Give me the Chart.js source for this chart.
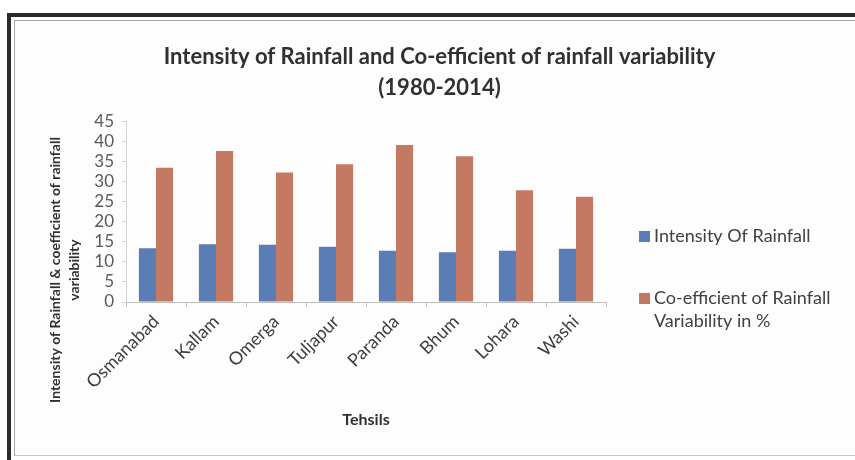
<!DOCTYPE html>
<html>
<head>
<meta charset="utf-8">
<script src="https://cdn.jsdelivr.net/npm/chart.js@4.4.1/dist/chart.umd.min.js"></script>
<style>
  html, body { margin: 0; padding: 0; background: #ffffff; }
  body { width: 855px; height: 460px; position: relative; overflow: hidden; }
  .frame-outer {
    position: absolute; left: 7px; top: 13px; width: 860px; height: 444px;
    border-top: 4px solid #2b2b2b; border-left: 4px solid #2b2b2b;
    border-bottom: 2px solid #6a6a6a;
  }
  .frame-inner {
    position: absolute; left: 14px; top: 20px; width: 860px; height: 434px;
    border-top: 1px solid #a8a8a8; border-left: 1px solid #a8a8a8;
    border-bottom: 1px solid #c8c8c8; background: #fdfdfd;
  }
  #chartWrap { position: absolute; left: 0; top: 0; width: 855px; height: 460px; }
</style>
</head>
<body>
<div class="frame-outer"></div>
<div class="frame-inner"></div>
<div id="chartWrap"><canvas id="rainChart" width="855" height="460"></canvas></div>
<script>
// Tehsil-wise rainfall figures, 1980-2014
const tehsils = ['Osmanabad', 'Kallam', 'Omerga', 'Tuljapur', 'Paranda', 'Bhum', 'Lohara', 'Washi'];
const intensity = [13.4, 14.4, 14.3, 13.8, 12.8, 12.4, 12.8, 13.3];
const variability = [33.5, 37.7, 32.3, 34.4, 39.2, 36.4, 27.9, 26.3];
const seriesNames = ['Intensity Of Rainfall', 'Co-efficient of Rainfall\nVariability in %'];
const yTicks = [0, 5, 10, 15, 20, 25, 30, 35, 40, 45];

const titleLines = ['Intensity of Rainfall and Co-efficient of rainfall variability', '(1980-2014)'];
const yTitleLines = ['Intensity of Rainfall & coefficient of rainfall', 'variability'];
const xTitle = 'Tehsils';

const BLUE = '#5b7db5';
const ORANGE = '#c47a62';
const FONT = 'Lato, "Open Sans", sans-serif';

// right-hand box that holds the legend (two-line labels are allowed)
const sideLegend = {
    id: 'sideLegend',
    beforeInit(chart) {
        const box = {
            position: 'right',
            weight: 10,
            fullSize: false,
            options: {},
            top: 0, left: 0, right: 0, bottom: 0, width: 0, height: 0,
            isHorizontal() { return false; },
            update(maxWidth, maxHeight) {
                this.width = 249;
                this.height = maxHeight;
            },
            draw() {
                const ctx = chart.ctx;
                const colors = [BLUE, ORANGE];
                const rows = [236, 298];
                ctx.save();
                ctx.font = '18px ' + FONT;
                ctx.textBaseline = 'middle';
                ctx.textAlign = 'left';
                seriesNames.forEach((name, i) => {
                    const x = this.left + 33;
                    const y = rows[i];
                    ctx.fillStyle = colors[i];
                    ctx.fillRect(x, y - 5, 11, 11);
                    ctx.fillStyle = '#404040';
                    name.split('\n').forEach((line, j) => {
                        ctx.fillText(line, x + 15, y + j * 23);
                    });
                });
                ctx.restore();
            }
        };
        Chart.layouts.addBox(chart, box);
    }
};

// rotated two-line title for the value axis
const yAxisTitle = {
    id: 'yAxisTitle',
    afterDraw(chart) {
        const ctx = chart.ctx;
        ctx.save();
        ctx.translate(55, 270);
        ctx.rotate(-Math.PI / 2);
        ctx.font = 'bold 14px ' + FONT;
        ctx.fillStyle = '#303030';
        ctx.textAlign = 'center';
        ctx.textBaseline = 'middle';
        yTitleLines.forEach((line, i) => ctx.fillText(line, 0, i * 19));
        ctx.restore();
    }
};

new Chart(document.getElementById('rainChart'), {
    type: 'bar',
    data: {
        labels: tehsils,
        datasets: [{
            label: seriesNames[0],
            data: intensity,
            backgroundColor: BLUE,
            categoryPercentage: 0.57,
            barPercentage: 1.0
        }, {
            label: seriesNames[1],
            data: variability,
            backgroundColor: ORANGE,
            categoryPercentage: 0.57,
            barPercentage: 1.0
        }]
    },
    options: {
        responsive: false,
        animation: false,
        layout: { padding: { left: 24, right: 0, top: 0, bottom: 0 } },
        scales: {
            x: {
                afterFit(scale) { scale.height = 158; },
                grid: {
                    offset: true,
                    drawOnChartArea: false,
                    tickLength: 5,
                    color: '#bfbfbf'
                },
                border: { display: true, color: '#bfbfbf' },
                ticks: {
                    minRotation: 45,
                    maxRotation: 45,
                    autoSkip: false,
                    padding: 4,
                    color: '#404040',
                    font: { family: FONT, size: 18 }
                },
                title: {
                    display: true,
                    text: xTitle,
                    color: '#303030',
                    font: { family: FONT, size: 16, weight: 'bold', lineHeight: 1.2 },
                    padding: { top: 0, bottom: 31 }
                }
            },
            y: {
                min: 0,
                max: 45,
                afterFit(scale) { scale.width = 102; },
                afterBuildTicks(scale) {
                    scale.ticks = yTicks.map(v => ({ value: v }));
                },
                grid: {
                    drawOnChartArea: false,
                    tickLength: 4,
                    color: '#d4d4d4'
                },
                border: { display: true, color: '#d4d4d4' },
                ticks: {
                    autoSkip: false,
                    padding: 8,
                    color: '#595959',
                    font: { family: FONT, size: 17 }
                }
            }
        },
        plugins: {
            legend: { display: false },
            tooltip: { enabled: false },
            title: {
                display: true,
                text: titleLines,
                color: '#303030',
                font: { family: FONT, size: 22, weight: 'bold', lineHeight: 1.38 },
                padding: { top: 42, bottom: 19 }
            }
        }
    },
    plugins: [sideLegend, yAxisTitle]
});
</script>
</body>
</html>
